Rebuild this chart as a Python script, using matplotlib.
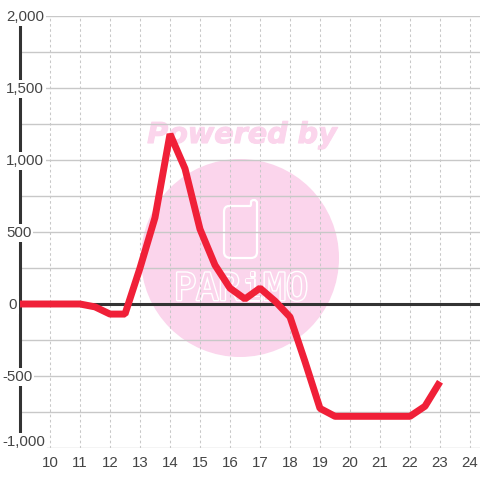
import matplotlib
matplotlib.use("Agg")
import matplotlib.pyplot as plt
import matplotlib.patheffects as pe
from matplotlib.patches import Circle, PathPatch
from matplotlib.path import Path

# half hour steps from 9:00 to 23:00
hours = [9, 9.5, 10, 10.5, 11, 11.5, 12, 12.5, 13, 13.5, 14, 14.5, 15, 15.5, 16, 16.5,
         17, 17.5, 18, 18.5, 19, 19.5, 20, 20.5, 21, 21.5, 22, 22.5, 23]
values = [0, 0, 0, 0, 0, -20, -70, -70, 250, 600, 1180, 940, 520, 270, 110, 35,
          110, 20, -90, -400, -725, -780, -780, -780, -780, -780, -780, -710, -540]

x_ticks = list(range(10, 25))
y_labels = [2000, 1500, 1000, 500, 0, -500, -1000]
logo_letters = ["P", "A", "R", "i", "M", "O"]

plt.rcParams["font.family"] = ["Liberation Sans", "DejaVu Sans"]

fig = plt.figure(figsize=(4.8, 4.8), dpi=100)

# watermark goes on its own axes behind the chart, in pixel units
bg = fig.add_axes([0, 0, 1, 1], zorder=-1)
bg.set_xlim(0, 480)
bg.set_ylim(480, 0)
bg.axis("off")
pink = "#fbd5ec"
bg.add_patch(Circle((240, 258), 99, fc=pink, ec="none"))
bg.text(242, 135, "Powered by", color=pink, fontsize=20.6, family="DejaVu Sans",
        fontweight="bold", fontstyle="italic", ha="center", va="center",
        path_effects=[pe.withStroke(linewidth=0.8, foreground=pink)])
phone = Path([(229, 206), (250, 206), (251, 206), (251, 204), (251, 202), (251, 200), (254, 200),
              (257, 200), (257, 203), (257, 252), (257, 258), (251, 258), (231, 258), (224, 258),
              (224, 252), (224, 212), (224, 206), (229, 206)],
             [Path.MOVETO, Path.LINETO, Path.CURVE3, Path.CURVE3, Path.LINETO, Path.CURVE3, Path.CURVE3,
              Path.CURVE3, Path.CURVE3, Path.LINETO, Path.CURVE3, Path.CURVE3, Path.LINETO, Path.CURVE3,
              Path.CURVE3, Path.LINETO, Path.CURVE3, Path.CURVE3])
bg.add_patch(PathPatch(phone, fc="none", ec="white", lw=1.6))
for i, letter in enumerate(logo_letters):
    bg.text(185 + i * 22.4, 290, letter, color=pink, fontsize=27, family="DejaVu Sans Mono",
            ha="center", va="center",
            path_effects=[pe.withStroke(linewidth=2, foreground="white")])

# one hour = 30 px, 500 = 72 px
ax = fig.add_axes([20 / 480, (480 - 448) / 480, 460 / 480, 432 / 480])
ax.set_xlim(9, 9 + 460 / 30)
ax.set_ylim(-1000, 2000)
ax.patch.set_visible(False)

for s in ax.spines.values():
    s.set_visible(False)

ax.set_yticks(range(-1000, 2001, 250))
ax.set_xticks(x_ticks)
ax.set_xticklabels([str(t) for t in x_ticks])
ax.set_yticklabels([])
ax.grid(axis="y", color="#c8c8c8", lw=1.0, zorder=1)
ax.grid(axis="x", color="#c8c8c8", lw=0.75, ls=(0, (2.5, 2.5)), zorder=1)
ax.tick_params(length=0)
ax.tick_params(axis="x", labelsize=10.8, labelcolor="#444444", pad=6)

ax.axvline(9, color="#333333", lw=2.2, clip_on=False, zorder=2)
ax.axhline(0, color="#333333", lw=2.2, zorder=2)
ax.plot(hours, values, color="#f02038", lw=5, solid_capstyle="butt",
        solid_joinstyle="bevel", clip_on=False, zorder=3)

# y labels sit on top of the axis line with a white box behind
for v in y_labels:
    lx = 2 if v < 0 else (8 if v == 0 else 6)
    dy = 4 if v == -1000 else -0.7
    ax.annotate(f"{v:,}", xy=(lx / 480, v), xycoords=("figure fraction", "data"), xytext=(0, dy),
                textcoords="offset points", ha="left", va="center", fontsize=10.8, color="#444444",
                annotation_clip=False, bbox=dict(fc="white", ec="none", pad=1.5), zorder=5)

fig.savefig("out.png", dpi=100)
